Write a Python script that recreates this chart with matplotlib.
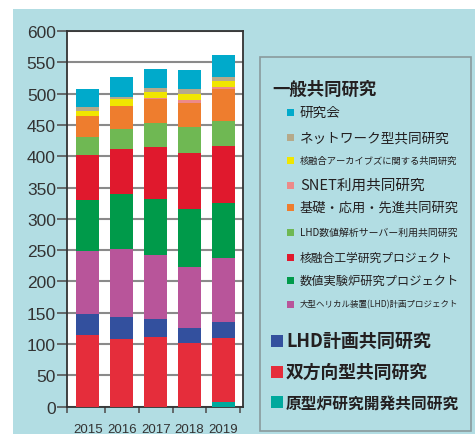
#import library
import matplotlib.pyplot as plt
from matplotlib.patches import Rectangle
import numpy as np

#define datasets
years = ["2015", "2016", "2017", "2018", "2019"]

genkeiro = [0, 0, 0, 0, 7]          # 原型炉研究開発共同研究
souhoukou = [115, 108, 112, 101, 103]  # 双方向型共同研究
lhd_keikaku = [33, 35, 28, 24, 26]     # LHD計画共同研究
lhd_project = [101, 109, 102, 98, 101]  # 大型ヘリカル装置(LHD)計画プロジェクト
suuchi_jikken = [81, 87, 90, 92, 89]   # 数値実験炉研究プロジェクト
kougaku = [72, 72, 83, 90, 91]         # 核融合工学研究プロジェクト
lhd_suuchi = [29, 32, 38, 42, 40]      # LHD数値解析サーバー利用共同研究
kiso = [34, 37, 39, 38, 50]            # 基礎・応用・先進共同研究
snet = [0, 1, 1, 5, 4]                 # SNET利用共同研究
archive = [7, 10, 9, 9, 9]             # 核融合アーカイブズに関する共同研究
network = [6, 4, 7, 8, 7]              # ネットワーク型共同研究
kenkyukai = [30, 31, 30, 31, 34]       # 研究会

series = [genkeiro, souhoukou, lhd_keikaku, lhd_project, suuchi_jikken,
          kougaku, lhd_suuchi, kiso, snet, archive, network, kenkyukai]
colors = ["#00a99d", "#e52d3b", "#33509e", "#b8559a", "#009a4a",
          "#e0192d", "#6fb853", "#ee7d2e", "#ec8a8a", "#f0e600",
          "#b5a98a", "#00aacb"]

plt.rcParams['font.family'] = ['Noto Sans CJK JP', 'DejaVu Sans']

W, H = 475, 435
fig = plt.figure(figsize=(W / 100, H / 100), dpi=100)
fig.patch.set_facecolor("white")

def fx(px):
    return px / W

def fy(py):
    return 1 - py / H

#light blue panel
fig.patches.append(Rectangle((fx(13), 0), 1 - fx(13), fy(10), transform=fig.transFigure,
                             facecolor="#b2dde3", edgecolor="none", zorder=-2))

ax = fig.add_axes([fx(67), fy(407.7), fx(243) - fx(67), fy(32) - fy(407.7)])
ax.set_zorder(1)
ax.set_facecolor("white")

#stacked bars
x = np.arange(len(years))
bottom = np.zeros(len(years))
for vals, c in zip(series, colors):
    ax.bar(x, vals, width=0.68, bottom=bottom, color=c, zorder=3)
    bottom += np.array(vals)

ax.set_ylim(0, 600)
ax.set_xlim(-0.62, 4.58)
ax.set_yticks(np.arange(0, 601, 50))
ax.set_xticks(x)
ax.set_xticklabels(years)
ax.set_xticks([-0.62, 0.5, 1.5, 2.5, 3.5, 4.5], minor=True)
ax.tick_params(axis="x", which="major", length=0, pad=12)
ax.tick_params(axis="x", which="minor", length=4.5, width=1.2, color="#555555")
ax.tick_params(axis="y", length=7, width=1.2, color="#555555", pad=1)
for lab in ax.get_yticklabels():
    lab.set_fontfamily("Liberation Sans")
    lab.set_fontsize(12.5)
    lab.set_color("#333333")
for lab in ax.get_xticklabels():
    lab.set_fontfamily("Liberation Sans")
    lab.set_fontsize(9.5)
    lab.set_color("#333333")

ax.grid(True, axis="y", color="#8a8a8a", linewidth=1.5, zorder=1)
ax.set_axisbelow(True)
for s in ax.spines.values():
    s.set_color("#333333")
    s.set_linewidth(1.3)

#legend box
fig.patches.append(Rectangle((fx(260), fy(431.7)), fx(470.7) - fx(260), fy(58.3) - fy(431.7),
                             transform=fig.transFigure, facecolor="none",
                             edgecolor="#8a9a9d", linewidth=1.2, zorder=1))

txt = "#231f20"
fig.text(fx(272), fy(90), "一般共同研究", fontsize=12.5, fontweight="bold",
         color=txt, va="center", ha="left")

sub_items = [
    ("研究会", colors[11], 9.8, 113.3),
    ("ネットワーク型共同研究", colors[10], 9.8, 138.3),
    ("核融合アーカイブズに関する共同研究", colors[9], 6.7, 161.7),
    ("SNET利用共同研究", colors[8], 10.5, 186),
    ("基礎・応用・先進共同研究", colors[7], 9.5, 208.3),
    ("LHD数値解析サーバー利用共同研究", colors[6], 7.1, 233.3),
    ("核融合工学研究プロジェクト", colors[5], 8.5, 258.3),
    ("数値実験炉研究プロジェクト", colors[4], 8.8, 281.7),
    ("大型ヘリカル装置(LHD)計画プロジェクト", colors[3], 6.1, 305),
]
for label, c, fs, yy in sub_items:
    fig.patches.append(Rectangle((fx(286.5), fy(yy + 3.5)), fx(7), 7 / H,
                                 transform=fig.transFigure, facecolor=c,
                                 edgecolor="none", zorder=2))
    fig.text(fx(300), fy(yy), label, fontsize=fs, color=txt, va="center", ha="left")

main_items = [
    ("LHD計画共同研究", colors[2], 13, 341.7),
    ("双方向型共同研究", colors[1], 12.8, 373.3),
    ("原型炉研究開発共同研究", colors[0], 11.3, 403.3),
]
for label, c, fs, yy in main_items:
    fig.patches.append(Rectangle((fx(271), fy(yy + 6)), fx(12), 12 / H,
                                 transform=fig.transFigure, facecolor=c,
                                 edgecolor="none", zorder=2))
    fig.text(fx(286), fy(yy), label, fontsize=fs, fontweight="bold",
             color=txt, va="center", ha="left")

#save
fig.savefig("out.png", dpi=100)
